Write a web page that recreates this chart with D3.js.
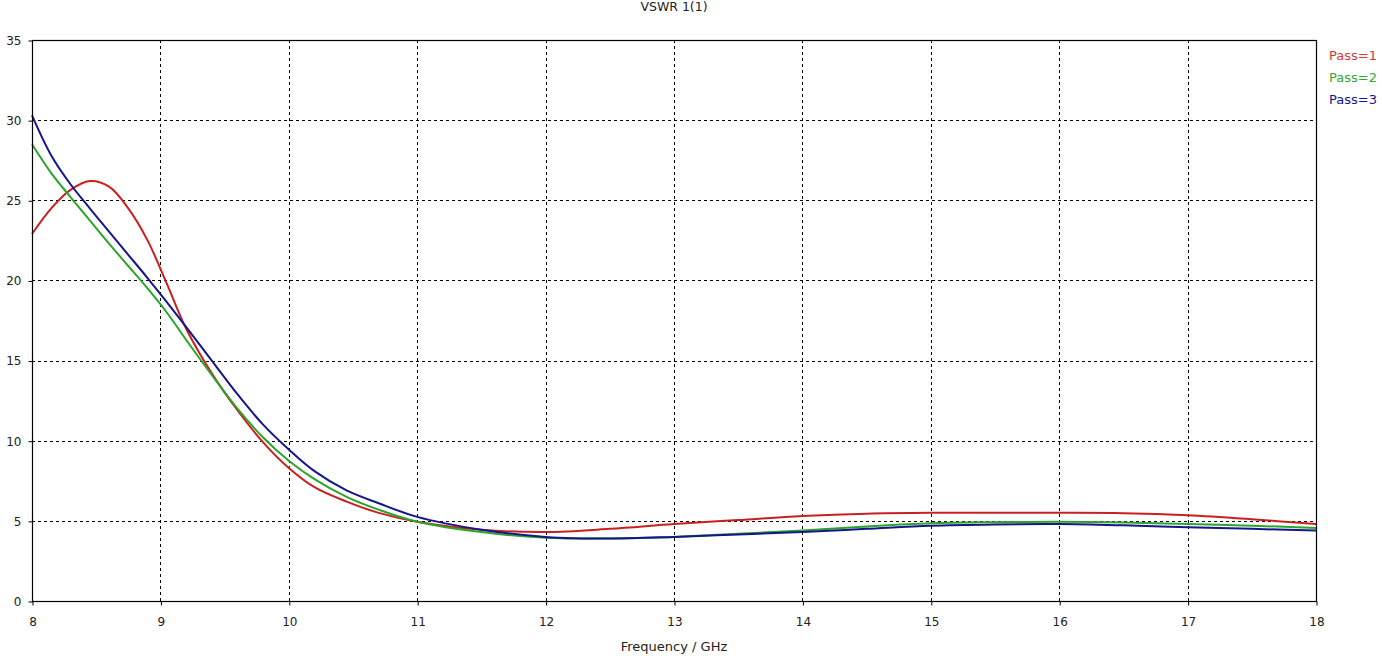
<!DOCTYPE html>
<html>
<head>
<meta charset="utf-8">
<script src="https://cdn.jsdelivr.net/npm/d3@7"></script>
<style>
  html, body { margin: 0; padding: 0; background: #fff; }
  svg { display: block; font-family: "DejaVu Sans", Verdana, sans-serif; }
</style>
</head>
<body>
<svg id="chart" width="1382" height="656"></svg>
<script>
// ---- data ----
const freq  = [8, 8.15, 8.3, 8.45, 8.6, 8.75, 8.9, 9.05, 9.2, 9.4, 9.6, 9.8, 10, 10.2, 10.45, 10.7, 11, 11.5, 12, 12.5, 13, 13.5, 14, 14.5, 15, 15.5, 16, 16.5, 17, 17.5, 18];
const pass1 = [22.9, 24.5, 25.65, 26.2, 25.85, 24.5, 22.5, 19.8, 17.0, 14.2, 11.9, 9.9, 8.3, 7.1, 6.2, 5.5, 4.95, 4.45, 4.3, 4.5, 4.8, 5.05, 5.3, 5.45, 5.5, 5.5, 5.5, 5.48, 5.35, 5.1, 4.8];
const pass2 = [28.5, 26.7, 25.2, 23.75, 22.3, 20.9, 19.5, 18.0, 16.3, 14.1, 12.0, 10.2, 8.75, 7.6, 6.5, 5.7, 4.95, 4.3, 3.95, 3.9, 4.0, 4.2, 4.4, 4.65, 4.85, 4.92, 4.95, 4.9, 4.8, 4.7, 4.55];
const pass3 = [30.3, 27.8, 26.0, 24.5, 23.05, 21.6, 20.15, 18.65, 17.1, 15.0, 12.9, 11.0, 9.45, 8.1, 6.9, 6.1, 5.25, 4.45, 4.0, 3.9, 4.0, 4.15, 4.3, 4.5, 4.7, 4.78, 4.8, 4.72, 4.6, 4.5, 4.4];
const seriesNames = ["Pass=1", "Pass=2", "Pass=3"];
const xTicks = [8, 9, 10, 11, 12, 13, 14, 15, 16, 17, 18];
const yTicks = [0, 5, 10, 15, 20, 25, 30, 35];
const titleText = "VSWR 1(1)";
const xLabel = "Frequency / GHz";

const colors = ["#c82020", "#2aa52a", "#16168c"];
const legendColors = ["#d03a3a", "#33a833", "#16168c"];

// ---- layout ----
const svg = d3.select("#chart");
const m = { left: 32, right: 1316, top: 40, bottom: 601 };
const x = d3.scaleLinear().domain([8, 18]).range([m.left, m.right]);
const y = d3.scaleLinear().domain([0, 35]).range([m.bottom, m.top]);

// grid
const grid = svg.append("g");
grid.selectAll("line.vx").data(xTicks.slice(1, -1)).join("line")
  .attr("x1", d => Math.round(x(d)) + 0.5).attr("x2", d => Math.round(x(d)) + 0.5)
  .attr("y1", m.top).attr("y2", m.bottom)
  .attr("stroke", "#000").attr("stroke-width", 1).attr("stroke-dasharray", "3,3");
grid.selectAll("line.hy").data(yTicks.slice(1, -1)).join("line")
  .attr("y1", d => Math.round(y(d)) + 0.5).attr("y2", d => Math.round(y(d)) + 0.5)
  .attr("x1", m.left).attr("x2", m.right)
  .attr("stroke", "#000").attr("stroke-width", 1).attr("stroke-dasharray", "3,3");

// series
const allSeries = [pass1, pass2, pass3];
const line = d3.line()
  .x((d, i) => x(freq[i]))
  .y(d => y(d))
  .curve(d3.curveCatmullRom.alpha(0.5));
svg.append("g").selectAll("path").data(allSeries).join("path")
  .attr("d", d => line(d))
  .attr("fill", "none")
  .attr("stroke", (d, i) => colors[i])
  .attr("stroke-width", 2);

// frame
svg.append("rect")
  .attr("x", m.left + 0.5).attr("y", m.top + 0.5)
  .attr("width", m.right - m.left).attr("height", m.bottom - m.top)
  .attr("fill", "none").attr("stroke", "#000").attr("stroke-width", 1.2);

// axes
const xAxis = d3.axisBottom(x).tickValues(xTicks).tickSize(4).tickPadding(12).tickFormat(d3.format("d"));
const gx = svg.append("g").attr("transform", `translate(0.5,${m.bottom + 0.5})`).call(xAxis);
const yAxis = d3.axisLeft(y).tickValues(yTicks).tickSize(4).tickPadding(7).tickFormat(d3.format("d"));
const gy = svg.append("g").attr("transform", `translate(${m.left + 0.5},0.5)`).call(yAxis);
[gx, gy].forEach(g => {
  g.select(".domain").remove();
  g.selectAll("text").attr("font-size", 12).attr("fill", "#222").attr("font-family", '"DejaVu Sans", Verdana, sans-serif');
  g.selectAll("line").attr("stroke", "#000");
});

// title
svg.append("text").attr("x", 674).attr("y", 11).attr("text-anchor", "middle")
  .attr("font-size", 12.5).attr("fill", "#222").text(titleText);

// x label
svg.append("text").attr("x", 674).attr("y", 651).attr("text-anchor", "middle")
  .attr("font-size", 13).attr("fill", "#222").text(xLabel);

// legend
svg.append("g").selectAll("text").data(seriesNames).join("text")
  .attr("x", 1329).attr("y", (d, i) => 60 + i * 22)
  .attr("font-size", 13).attr("fill", (d, i) => legendColors[i]).text(d => d);
</script>
</body>
</html>
